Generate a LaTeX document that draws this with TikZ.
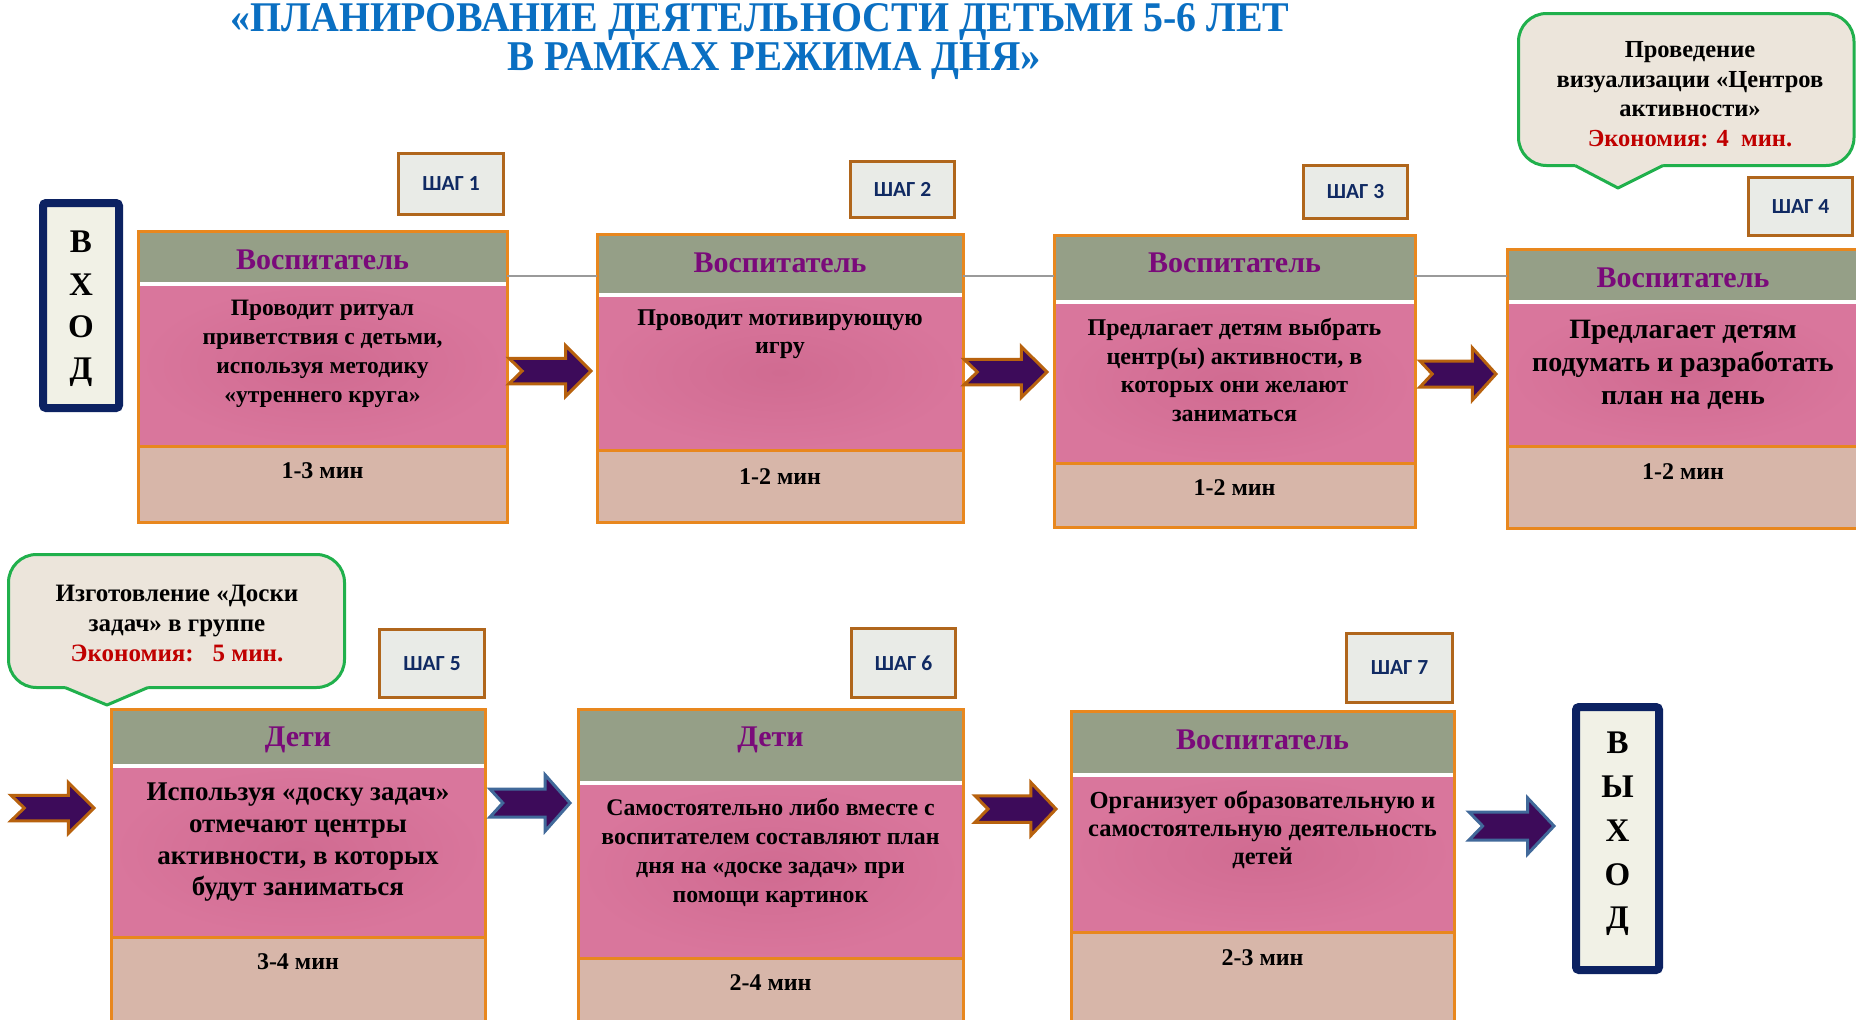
\documentclass[tikz,border=0pt]{standalone}
\usepackage{fontspec}
\usepackage{graphicx}
\setmainfont{Liberation Serif}[BoldFont={Liberation Serif Bold}]
\newfontfamily\shagfont{Carlito}[BoldFont={Carlito Bold}]
\usetikzlibrary{fit}
\definecolor{titleblue}{HTML}{0A6FC2}
\definecolor{headc}{HTML}{959F87}
\definecolor{pinkc}{HTML}{D9769C}
\definecolor{pinkin}{HTML}{D06B91}
\definecolor{beigec}{HTML}{D7B6A9}
\definecolor{cardborder}{HTML}{E8871E}
\definecolor{shagfill}{HTML}{E9EBE7}
\definecolor{shagborder}{HTML}{B0661C}
\definecolor{shagtext}{HTML}{102A63}
\definecolor{arrowfill}{HTML}{3D0B5A}
\definecolor{arroworange}{HTML}{B8620E}
\definecolor{arrowblue}{HTML}{41699A}
\definecolor{callfill}{HTML}{ECE5DB}
\definecolor{callborder}{HTML}{20B04C}
\definecolor{headtext}{HTML}{7A0A7A}
\definecolor{redc}{HTML}{C00000}
\definecolor{navyc}{HTML}{0C2262}
\definecolor{creamc}{HTML}{F1F1E6}
\definecolor{glinec}{HTML}{9A9A9A}

\newcommand{\stepcard}[7]{% name, xl, xr, ytop, ywhite, ypink, ybot
  \fill[headc] (#2,#4) rectangle (#3,#5);
  \shade[inner color=pinkin, outer color=pinkc] (#2,#5) rectangle (#3,#6);
  \fill[beigec] (#2,#6) rectangle (#3,#7);
  \draw[white, line width=4pt] (#2,#5) -- (#3,#5);
  \draw[cardborder, line width=3pt] (#2,#6) -- (#3,#6);
  \node[fit={(#2,#4)(#3,#7)}, inner sep=0pt, outer sep=0pt, draw=cardborder, line width=3pt] (#1) {};
}
\newcommand{\blkarrow}[5]{% x0, x1, yc, half height, outline colour
  \draw[line width=3pt, draw=#5, fill=arrowfill, line join=miter, miter limit=6]
    (#1,{#3-#4/2}) -- ({#2-0.31*(#2-#1)},{#3-#4/2}) -- ({#2-0.31*(#2-#1)},{#3-#4})
    -- (#2,#3) -- ({#2-0.31*(#2-#1)},{#3+#4}) -- ({#2-0.31*(#2-#1)},{#3+#4/2})
    -- (#1,{#3+#4/2}) -- ({#1+0.16*(#2-#1)},#3) -- cycle;
}

\tikzset{
  shag/.style={draw=shagborder, line width=3pt, fill=shagfill, inner sep=0pt,
    font=\shagfont\bfseries\fontsize{21.5}{25}\selectfont, text=shagtext},
  headtxt/.style={font=\bfseries\fontsize{30}{34}\selectfont, text=headtext, inner sep=0pt},
  bodytxt/.style={align=center, inner sep=0pt, text=black},
  mintxt/.style={font=\bfseries\fontsize{24}{28}\selectfont, inner sep=0pt},
  calltxt/.style={align=center, inner sep=0pt, font=\bfseries\fontsize{24.5}{29.5}\selectfont},
  callshape/.style={draw=callborder, line width=3pt, fill=callfill},
  gateframe/.style={draw=navyc, line width=8pt, fill=creamc, rounded corners=3pt, inner sep=0pt},
  gatetxt/.style={align=center, inner sep=0pt, font=\bfseries\fontsize{33}{42.3}\selectfont},
  gline/.style={glinec, line width=1.5pt}
}

\begin{document}
\begin{tikzpicture}[x=1pt,y=-1pt]
\useasboundingbox (0,0) rectangle (1856,1020);
\clip (0,0) rectangle (1856,1020);
\fill[white] (0,0) rectangle (1856,1020);

% title
\node[anchor=base west, inner sep=0pt, text=titleblue] (title1) at (230,31.5)
  {\resizebox{1059pt}{28pt}{\fontsize{45}{50}\selectfont\bfseries «ПЛАНИРОВАНИЕ ДЕЯТЕЛЬНОСТИ ДЕТЬМИ 5-6 ЛЕТ}};
\node[anchor=base west, inner sep=0pt, text=titleblue] (title2) at (507,70)
  {\resizebox{534pt}{28pt}{\fontsize{45}{50}\selectfont\bfseries В РАМКАХ РЕЖИМА ДНЯ»}};

% callout top right
\draw[callshape, rounded corners=28pt] (1518.5,13.5) rectangle (1854,165.5);
\fill[callfill] (1575,163) -- (1575,165.5) -- (1618,188) -- (1663,165.5) -- (1663,163) -- cycle;
\draw[callborder, line width=3pt, line join=round] (1575,165.5) -- (1618,188) -- (1663,165.5);
\node[calltxt] (note1) at (1690,94)
  {Проведение\\визуализации «Центров\\активности»\\\textcolor{redc}{Экономия: 4~~мин.}};

% callout left
\draw[callshape, rounded corners=28pt] (8.5,554.5) rectangle (344.5,687.5);
\fill[callfill] (65,685) -- (65,687.5) -- (107,705) -- (148,687.5) -- (148,685) -- cycle;
\draw[callborder, line width=3pt, line join=round] (65,687.5) -- (107,705) -- (148,687.5);
\node[calltxt, font=\bfseries\fontsize{25}{30}\selectfont] (note2) at (177,623)
  {Изготовление «Доски\\задач» в группе\\\textcolor{redc}{Экономия:~~~5 мин.}};

% entry / exit
\node[gateframe, fit={(43,203)(119,408)}] (entry) {};
\node[gatetxt] (entrytxt) at (81,309) {В\\Х\\О\\Д};
\node[gateframe, fit={(1576,707)(1659,970)}] (exit) {};
\node[gatetxt, font=\bfseries\fontsize{33}{43.75}\selectfont] (exittxt) at (1617.5,834) {В\\Ы\\Х\\О\\Д};

% step cards
\stepcard{s1}{138}{507}{231}{284}{446}{522}
\stepcard{s2}{597}{963}{234}{295}{450}{522}
\stepcard{s3}{1054}{1415}{235}{302}{463}{527}
\stepcard{s4}{1507}{1862}{249}{302}{446}{528}
\stepcard{s5}{111}{485}{709}{766}{937}{1040}
\stepcard{s6}{578}{963}{709}{783}{958}{1040}
\stepcard{s7}{1071}{1454}{711}{775}{932}{1040}

% grey header line
\coordinate (gy) at (0,276);
\draw[gline] (s1.east |- gy) -- (s2.west |- gy);
\draw[gline] (s2.east |- gy) -- (s3.west |- gy);
\draw[gline] (s3.east |- gy) -- (s4.west |- gy);

% headers
\node[headtxt] (h1) at (322.5,260) {Воспитатель};
\node[headtxt] (h2) at (780,263) {Воспитатель};
\node[headtxt] (h3) at (1234.5,263) {Воспитатель};
\node[headtxt] (h4) at (1683,278) {Воспитатель};
\node[headtxt] (h5) at (298,740) {Дети};
\node[headtxt] (h6) at (770.5,740) {Дети};
\node[headtxt] (h7) at (1262.5,740) {Воспитатель};

% bodies
\node[bodytxt, font=\bfseries\fontsize{23.5}{29}\selectfont] (b1) at (322.5,353.5)
  {Проводит ритуал\\приветствия с детьми,\\используя методику\\«утреннего круга»};
\node[bodytxt, font=\bfseries\fontsize{24}{28}\selectfont] (b2) at (780,334)
  {Проводит мотивирующую\\игру};
\node[bodytxt, font=\bfseries\fontsize{24}{28.7}\selectfont] (b3) at (1234.5,370)
  {Предлагает детям выбрать\\центр(ы) активности, в\\которых они желают\\заниматься};
\node[bodytxt, font=\bfseries\fontsize{28}{33}\selectfont] (b4) at (1683,365)
  {Предлагает детям\\подумать и разработать\\план на день};
\node[bodytxt, font=\bfseries\fontsize{27}{31.7}\selectfont] (b5) at (298,842.5)
  {Используя «доску задач»\\отмечают центры\\активности, в которых\\будут заниматься};
\node[bodytxt, font=\bfseries\fontsize{23.8}{29.3}\selectfont] (b6) at (770.5,853)
  {Самостоятельно либо вместе с\\воспитателем составляют план\\дня на «доске задач» при\\помощи картинок};
\node[bodytxt, font=\bfseries\fontsize{24.5}{28}\selectfont] (b7) at (1262.5,830)
  {Организует образовательную и\\самостоятельную деятельность\\детей};

% minutes
\node[mintxt] (m1) at (322.5,471) {1-3 мин};
\node[mintxt] (m2) at (780,477) {1-2 мин};
\node[mintxt] (m3) at (1234.5,488) {1-2 мин};
\node[mintxt] (m4) at (1683,472) {1-2 мин};
\node[mintxt] (m5) at (298,962) {3-4 мин};
\node[mintxt] (m6) at (770.5,983) {2-4 мин};
\node[mintxt] (m7) at (1262.5,958) {2-3 мин};

% step tags
\node[shag, minimum width=105pt, minimum height=61pt] (t1) at (451,184) {ШАГ 1};
\node[shag, minimum width=104pt, minimum height=56pt] (t2) at (902.5,189.5) {ШАГ 2};
\node[shag, minimum width=104pt, minimum height=53pt] (t3) at (1355.5,192) {ШАГ 3};
\node[shag, minimum width=104pt, minimum height=58pt] (t4) at (1800.5,206.5) {ШАГ 4};
\node[shag, minimum width=105pt, minimum height=68pt] (t5) at (432,663.5) {ШАГ 5};
\node[shag, minimum width=104pt, minimum height=69pt] (t6) at (903.5,663) {ШАГ 6};
\node[shag, minimum width=106pt, minimum height=69pt] (t7) at (1399.5,668) {ШАГ 7};

% block arrows
\blkarrow{509}{591}{371}{25.5}{arroworange}
\blkarrow{964}{1047}{372}{25.5}{arroworange}
\blkarrow{1420}{1496}{374}{26}{arroworange}
\blkarrow{11}{94}{808}{25.5}{arroworange}
\blkarrow{490}{570}{803}{28}{arrowblue}
\blkarrow{975}{1056}{809}{26.5}{arroworange}
\blkarrow{1469}{1554}{826}{28}{arrowblue}
\end{tikzpicture}
\end{document}
